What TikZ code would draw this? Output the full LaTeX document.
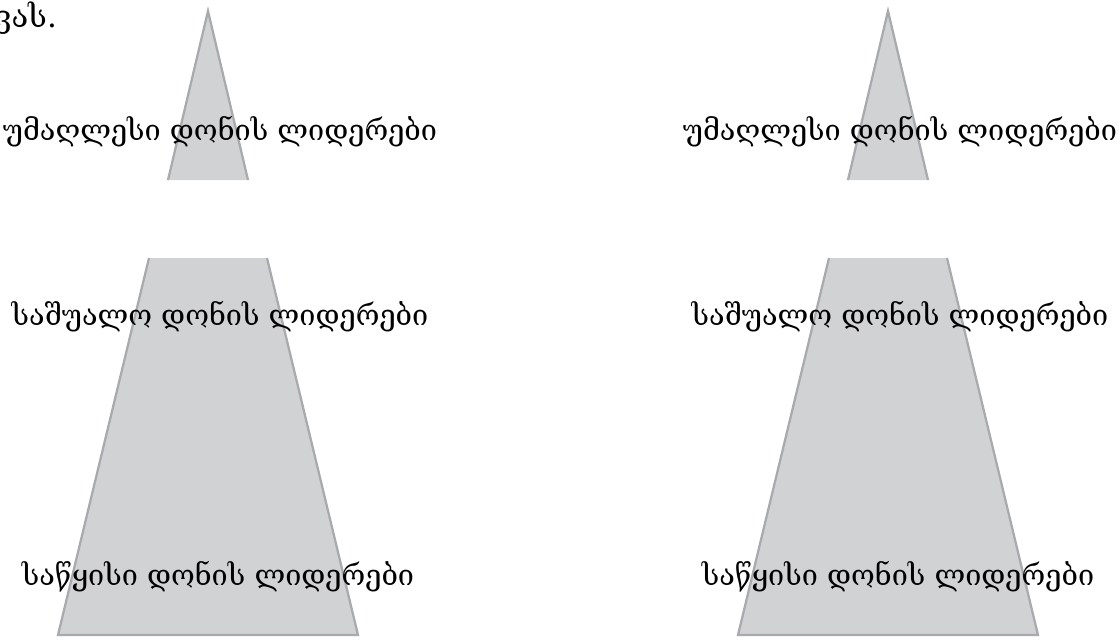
\documentclass[tikz,border=0pt]{standalone}
\usepackage{fontspec}
\newfontfamily\geofont{DejaVu Serif}
\usepackage{tikz}
\definecolor{layerfill}{HTML}{D1D2D4}
\definecolor{layerline}{HTML}{A8AAAD}

\begin{document}
\begin{tikzpicture}[x=0.025cm, y=-0.025cm,
    layer/.style={fill=layerfill, draw=none},
    edge/.style={draw=layerline, line width=1.6pt, line join=miter},
    lvl/.style={font=\geofont\fontsize{20.5}{24}\selectfont, anchor=base, inner sep=0pt}]

    \useasboundingbox (0,0) rectangle (1120,641);

    \node[anchor=base west, inner sep=0pt, font=\geofont\fontsize{22}{24}\selectfont] (note) at (-6,27) {ვას.};

    \foreach \s/\dx in {L/0, R/680} {
        % top tier
        \fill[layer] (208+\dx,11) -- (248+\dx,180) -- (168+\dx,180) -- cycle;
        \draw[edge] (168+\dx,180) -- (208+\dx,11) -- (248+\dx,180);
        % middle and base tiers
        \fill[layer] (149+\dx,258) -- (267+\dx,258) -- (358+\dx,635) -- (58+\dx,635) -- cycle;
        \draw[edge] (149+\dx,258) -- (58+\dx,635) -- (358+\dx,635) -- (267+\dx,258);

        \node[lvl] (top\s) at (220+\dx,140) {უმაღლესი დონის ლიდერები};
        \node[lvl] (mid\s) at (220+\dx,325) {საშუალო დონის ლიდერები};
        \node[lvl] (base\s) at (218+\dx,585) {საწყისი დონის ლიდერები};
    }

\end{tikzpicture}
\end{document}
